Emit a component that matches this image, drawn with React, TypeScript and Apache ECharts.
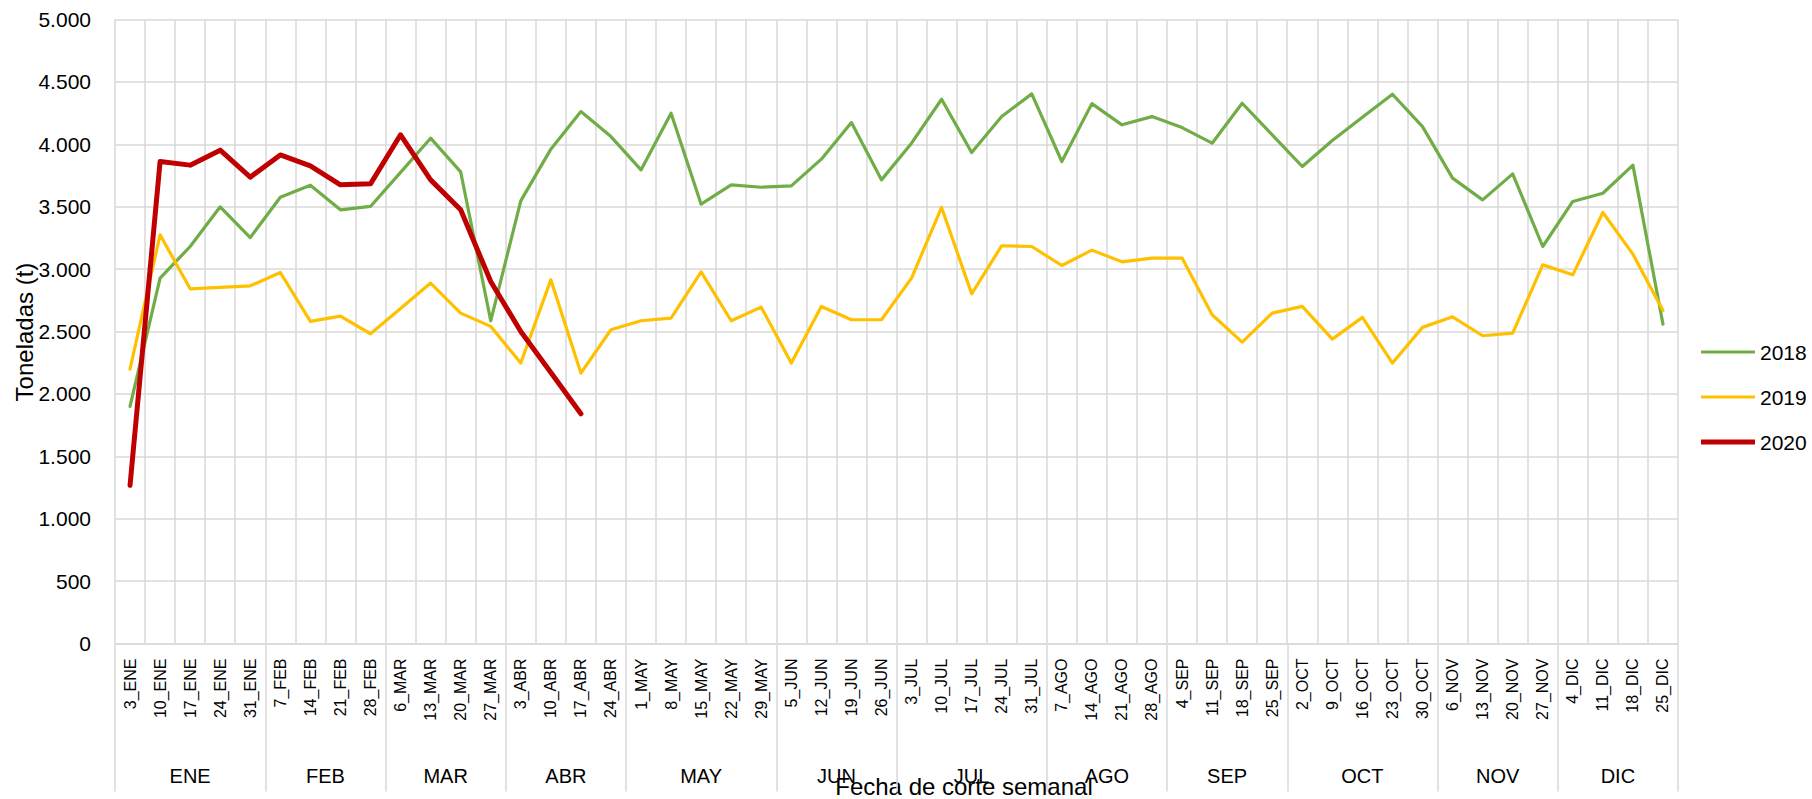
import React, { useEffect, useRef } from "react";
import * as echarts from "echarts";

const months = ["ENE", "FEB", "MAR", "ABR", "MAY", "JUN", "JUL", "AGO", "SEP", "OCT", "NOV", "DIC"];
const weekDays = [
  [3, 10, 17, 24, 31],
  [7, 14, 21, 28],
  [6, 13, 20, 27],
  [3, 10, 17, 24],
  [1, 8, 15, 22, 29],
  [5, 12, 19, 26],
  [3, 10, 17, 24, 31],
  [7, 14, 21, 28],
  [4, 11, 18, 25],
  [2, 9, 16, 23, 30],
  [6, 13, 20, 27],
  [4, 11, 18, 25],
];

const s2018 = [1900, 2928, 3181, 3499, 3253, 3576, 3672, 3475, 3502, 3775, 4049, 3779, 2586, 3547, 3961, 4262, 4062,
  3795, 4249, 3520, 3675, 3656, 3667, 3881, 4174, 3715, 4009, 4361, 3934, 4222, 4404, 3862, 4326, 4156,
  4222, 4134, 4009, 4329, 4076, 3822, 4030, 4217, 4401, 4142, 3729, 3555, 3763, 3181, 3542, 3608, 3833, 2559];
const s2019 = [2199, 3275, 2842, 2853, 2866, 2973, 2581, 2623, 2482, 2685, 2888, 2647, 2541, 2247, 2914, 2167, 2514,
  2586, 2607, 2978, 2586, 2695, 2247, 2701, 2594, 2594, 2928, 3494, 2802, 3187, 3181, 3029, 3152, 3058,
  3088, 3088, 2634, 2415, 2647, 2701, 2439, 2613, 2247, 2533, 2618, 2466, 2487, 3034, 2954, 3454, 3120, 2669];
const s2020 = [1267, 3862, 3833, 3953, 3737, 3915, 3827, 3675, 3683, 4076, 3715, 3475, 2901, 2500, 2172, 1841];

const seriesNames = ["2018", "2019", "2020"];
const colors = ["#70AD47", "#FFC000", "#C00000"];
const widths = [3.2, 3.2, 5];

const yTitle = "Toneladas (t)";
const xTitle = "Fecha de corte semanal";

export default function App() {
  const ref = useRef<HTMLDivElement>(null);
  useEffect(() => {
    if (!ref.current) return;
    const chart = echarts.init(ref.current, null, { renderer: "svg" });

    const categories: string[] = [];
    weekDays.forEach((days, mi) => days.forEach((d) => categories.push(`${d}_${months[mi]}`)));
    const bounds: number[] = [0];
    const mids: number[] = [];
    weekDays.forEach((days) => {
      const start = bounds[bounds.length - 1];
      bounds.push(start + days.length);
      mids.push(start + days.length / 2);
    });

    const font = "'Liberation Sans', Arial, sans-serif";
    const narrow = "'Liberation Sans Narrow', 'Liberation Sans', Arial, sans-serif";
    const grid = "#D9D9D9";
    const data = [s2018, s2019, s2020];

    chart.setOption({
      animation: false,
      textStyle: { fontFamily: font, color: "#000" },
      grid: { left: 115, right: 134, top: 19.5, bottom: 155.5, containLabel: false },
      legend: {
        orient: "vertical",
        left: 1701,
        top: 341,
        padding: 0,
        itemWidth: 54,
        itemHeight: 22,
        itemGap: 23,
        textStyle: { fontSize: 21, lineHeight: 22, fontFamily: font, color: "#000" },
        data: seriesNames.map((name, i) => ({
          name,
          icon: `path://M0,0H54V${widths[i]}H0Z`,
          itemStyle: { color: colors[i] },
        })),
      },
      xAxis: [
        {
          type: "category",
          data: categories,
          boundaryGap: true,
          axisLine: { show: true, lineStyle: { color: grid, width: 1.5 } },
          axisTick: { show: false },
          splitLine: { show: true, interval: 0, lineStyle: { color: grid, width: 1.5 } },
          axisLabel: {
            interval: 0,
            rotate: 90,
            margin: 15,
            fontSize: 16,
            fontFamily: narrow,
            color: "#000",
          },
        },
        {
          type: "value",
          position: "bottom",
          min: 0,
          max: bounds[bounds.length - 1],
          axisLine: { show: false },
          splitLine: { show: false },
          axisTick: {
            show: true,
            inside: false,
            length: 148,
            customValues: bounds,
            lineStyle: { color: grid, width: 1.5 },
          },
          axisLabel: {
            show: true,
            customValues: mids,
            margin: 122,
            fontSize: 20,
            fontFamily: narrow,
            color: "#000",
            formatter: (v: number) => {
              const idx = mids.findIndex((m) => Math.abs(m - v) < 1e-6);
              return idx >= 0 ? months[idx] : "";
            },
          },
        },
      ],
      yAxis: {
        type: "value",
        min: 0,
        max: 5000,
        interval: 500,
        axisLine: { show: false },
        axisTick: { show: false },
        splitLine: { show: true, lineStyle: { color: grid, width: 1.5 } },
        axisLabel: {
          margin: 24,
          fontSize: 21,
          fontFamily: font,
          color: "#000",
          formatter: (v: number) => String(v).replace(/\B(?=(\d{3})+(?!\d))/g, "."),
        },
      },
      graphic: [
        {
          type: "text",
          x: 24,
          y: 332,
          rotation: Math.PI / 2,
          style: { text: yTitle, font: `24px ${font}`, fill: "#000", align: "center", verticalAlign: "middle" },
        },
        {
          type: "text",
          x: 964,
          y: 786,
          style: { text: xTitle, font: `24px ${font}`, fill: "#000", align: "center", verticalAlign: "middle" },
        },
      ],
      series: seriesNames.map((name, i) => ({
        name,
        type: "line",
        xAxisIndex: 0,
        data: data[i],
        symbol: "none",
        color: colors[i],
        lineStyle: { color: colors[i], width: widths[i], join: "round", cap: "round" },
        z: 2 + i,
      })),
    });
    return () => chart.dispose();
  }, []);

  return (
    <div
      ref={ref}
      style={{ position: "fixed", left: 0, top: 0, width: 1812, height: 799, background: "#fff" }}
    />
  );
}
